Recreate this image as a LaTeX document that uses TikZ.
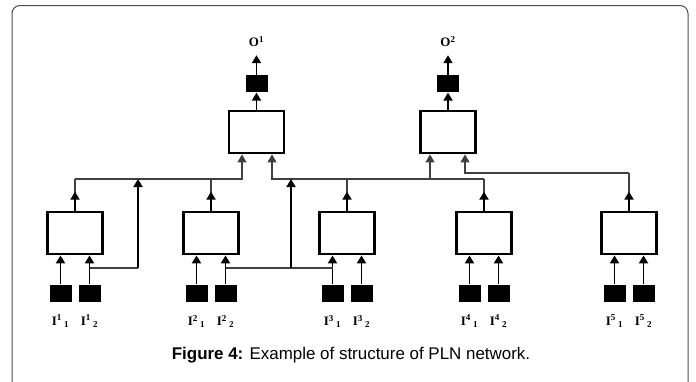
\documentclass[tikz,border=0pt]{standalone}
\usepackage{fontspec}
\setmainfont{Liberation Serif}
\setsansfont{Liberation Sans}
\usetikzlibrary{positioning,arrows.meta}

\begin{document}
\begin{tikzpicture}[x=1bp,y=-1bp,
    blk/.style={draw,line width=2.8bp,minimum width=55bp,minimum height=42bp,inner sep=0pt},
    sq/.style={fill=black,minimum width=22bp,minimum height=17bp,inner sep=0pt},
    arr/.style={line width=1.8bp,-{Triangle[width=9bp,length=8bp]}},
    wire/.style={line width=1.2bp,black!75},
    warr/.style={wire,-{Triangle[width=9bp,length=8bp]}},
    lbl/.style={font=\bfseries\fontsize{13}{13}\selectfont,inner sep=0pt}]
  \useasboundingbox (0,0) rectangle (696,381);
  \clip (0,0) rectangle (696,381);

  % frame
  \draw[black!70,line width=1bp,rounded corners=8bp] (12,400) -- (12,5.5) -- (688,5.5) -- (688,400);

  % bottom layer
  \node[blk] (n1) at (75,233) {};
  \node[blk] (n2) at (211,233) {};
  \node[blk] (n3) at (347,233) {};
  \node[blk] (n4) at (484,233) {};
  \node[blk] (n5) at (629,233) {};
  \foreach \b in {1,...,5} {
    \node[sq, below=29bp of n\b.south, xshift=-14.5bp] (a\b) {};
    \node[sq, below=29bp of n\b.south, xshift=14.5bp] (b\b) {};
    \node[lbl, below=13bp of a\b] (la\b) {I\textsuperscript{\b}\,\textsubscript{1}};
    \node[lbl, below=13bp of b\b] (lb\b) {I\textsuperscript{\b}\,\textsubscript{2}};
    \draw[arr] (a\b.north) -- (a\b.north |- n\b.south);
    \draw[arr] (b\b.north) -- (b\b.north |- n\b.south);
  }

  % top layer
  \node[blk] (o1) at (256.5,132) {};
  \node[blk] (o2) at (448,132) {};
  \node[sq, above=17bp of o1] (t1) {};
  \node[sq, above=17bp of o2] (t2) {};
  \node[lbl, font=\bfseries\fontsize{13}{13}\selectfont, above=28bp of t1] (p1) {O\textsuperscript{1}};
  \node[lbl, font=\bfseries\fontsize{13}{13}\selectfont, above=28bp of t2] (p2) {O\textsuperscript{2}};
  \foreach \t in {1,2} {
    \draw[arr] (o\t.north) -- (t\t.south);
    \draw[arr,shorten >=8bp] (t\t.north) -- (t\t.north |- p\t.south);
  }

  \coordinate (bus) at (0,179);
  \coordinate (bus2) at (0,173);
  \coordinate (lo) at (0,268);
  \coordinate (o1a) at ([xshift=-14.5bp]o1.south);
  \coordinate (o1b) at ([xshift=15.5bp]o1.south);
  \coordinate (o2a) at ([xshift=-18bp]o2.south);
  \coordinate (o2b) at ([xshift=17bp]o2.south);
  \coordinate (k1) at (138,268);
  \coordinate (k2) at (291,268);

  % outputs to the buses
  \foreach \b in {1,...,4} {
    \draw[wire] (n\b.north) -- (n\b.north |- bus);
    \draw[arr] (n\b.north) -- ++(0,-19);
  }
  \draw[wire] (n5.north) -- (n5.north |- bus2);
  \draw[arr] (n5.north) -- ++(0,-19);

  % buses
  \draw[warr] (n1.north |- bus) -- (o1a |- bus) -- (o1a);
  \draw[warr] (n4.north |- bus) -- (o1b |- bus) -- (o1b);
  \draw[warr] (o2a |- bus) -- (o2a);
  \draw[warr] (n5.north |- bus2) -- (o2b |- bus2) -- (o2b);

  % direct inputs
  \draw[wire] (b1.north |- lo) -- (k1);
  \draw[arr] (k1) -- (k1 |- bus);
  \draw[wire] (b2.north |- lo) -- (a3.north |- lo);
  \draw[arr] (k2) -- (k2 |- bus);

  % caption
  \node[font=\sffamily\fontsize{17}{17}\selectfont] (cap) at (351,355)
    {\textbf{Figure 4:} Example of structure of PLN network.};
\end{tikzpicture}
\end{document}
